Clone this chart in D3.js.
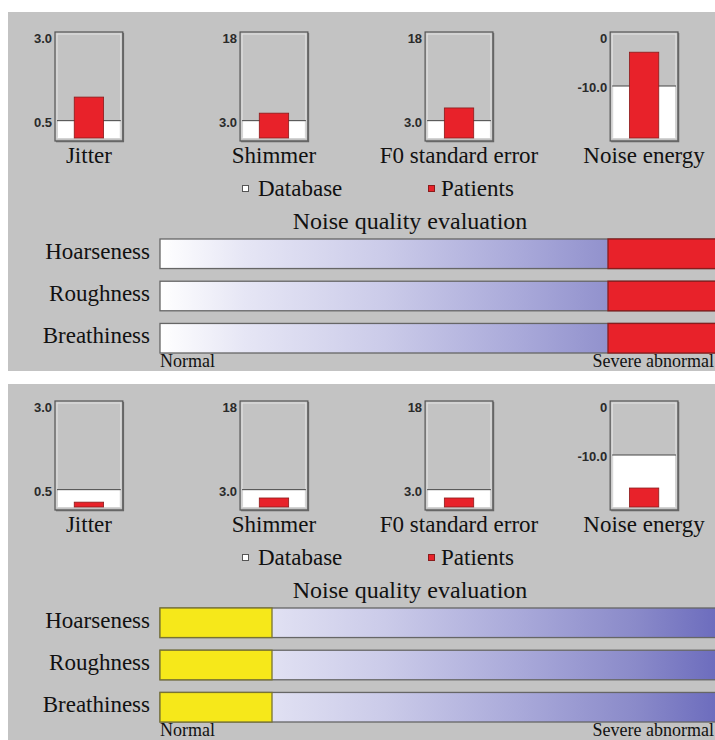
<!DOCTYPE html>
<html>
<head>
<meta charset="utf-8">
<script src="https://cdn.jsdelivr.net/npm/d3@7"></script>
<style>
  body { margin: 0; background: #fff; overflow: hidden; }
  svg { display: block; }
  .serif { font-family: 'Liberation Serif', 'DejaVu Serif', serif; fill: #111; }
  .tick-label { font-family: 'Liberation Sans', Arial, sans-serif; font-weight: bold; font-size: 13px; fill: #2a2a2a; }
</style>
</head>
<body>
<div class="chart"></div>
<script>
let w = 715, h = 740;

// values
const measures = ['Jitter', 'Shimmer', 'F0 standard error', 'Noise energy'];
const scaleMin = [0, 0, 0, -20];
const scaleMax = [3.0, 18, 18, 0];
const topTicks = ['3.0', '18', '18', '0'];
const databaseTicks = ['0.5', '3.0', '3.0', '-10.0'];
const databaseValues = [0.5, 3.0, 3.0, -10.0];
const patientsTop = [1.18, 4.3, 5.2, -3.5];
const patientsBottom = [0.14, 1.56, 1.56, -16.35];
const ratings = ['Hoarseness', 'Roughness', 'Breathiness'];
const gradeTop = [[4, 5], [4, 5], [4, 5]];
const gradeBottom = [[0, 1], [0, 1], [0, 1]];
const gradeDomain = [0, 5];
const legendLabels = ['Database', 'Patients'];
const scaleEnds = ['Normal', 'Severe abnormal'];

let svg = d3.select('.chart').append('svg').attr('width', w).attr('height', h);

/* ==== GRADIENT for the rating bars ===== */
let grad = svg.append('defs').append('linearGradient')
    .attr('id', 'rate-gradient')
    .attr('x1', '0%').attr('x2', '100%')
    .attr('y1', '0%').attr('y2', '0%');
[[0, '#ffffff'], [0.15, '#e6e6f5'], [0.4, '#cbcbe9'], [0.65, '#a8a8d9'], [0.85, '#8a8ac9'], [1, '#6b6bbd']]
    .forEach(function (s) {
        grad.append('stop').attr('offset', s[0] * 100 + '%').style('stop-color', s[1]);
    });

let panels = [
    { top: 12, bottom: 371, shift: 0, patients: patientsTop, grades: gradeTop, fill: '#e8222a', stroke: '#8a1c1c' },
    { top: 384, bottom: 745, shift: 369, patients: patientsBottom, grades: gradeBottom, fill: '#f6e81a', stroke: '#7a7430' }
];

// shared scales
let xBox = d3.scaleBand()
    .domain(measures)
    .range([57, 676])
    .paddingInner(0.655);

let xGrade = d3.scaleLinear()
    .domain(gradeDomain)
    .range([160, 720]);

panels.forEach(function (p) {
    let g = svg.append('g').attr('transform', 'translate(0,' + p.shift + ')');
    let bw = xBox.bandwidth();

    svg.insert('rect', 'g')
        .attr('x', 8).attr('y', p.top)
        .attr('width', 740).attr('height', p.bottom - p.top)
        .attr('fill', '#c3c3c3');

    /* ==== MINI BAR CHARTS ===== */
    measures.forEach(function (m, i) {
        let x0 = xBox(m);
        let y = d3.scaleLinear()
            .domain([scaleMin[i], scaleMax[i]])
            .range([138, 34]);

        // frame
        g.append('rect')
            .attr('x', x0 - 2).attr('y', 32)
            .attr('width', bw + 4).attr('height', 109)
            .attr('fill', 'none').attr('stroke', '#555').attr('stroke-width', 1.2);
        g.append('rect')
            .attr('x', x0).attr('y', 34)
            .attr('width', bw).attr('height', 104)
            .attr('fill', 'none').attr('stroke', '#e4e4e4').attr('stroke-width', 1);

        // database band
        g.append('rect')
            .attr('x', x0 + 1).attr('y', y(databaseValues[i]))
            .attr('width', bw - 2).attr('height', y(scaleMin[i]) - y(databaseValues[i]))
            .attr('fill', '#fff');
        g.append('line')
            .attr('x1', x0).attr('x2', x0 + bw)
            .attr('y1', y(databaseValues[i])).attr('y2', y(databaseValues[i]))
            .attr('stroke', '#444').attr('stroke-width', 1);

        // patients bar
        g.append('rect')
            .attr('x', x0 + bw * 0.27).attr('y', y(p.patients[i]))
            .attr('width', bw * 0.46).attr('height', y(scaleMin[i]) - y(p.patients[i]))
            .attr('fill', '#e8222a').attr('stroke', '#8a1c1c').attr('stroke-width', 0.8);

        // bottom/right shade of the frame
        g.append('path')
            .attr('d', 'M' + (x0 - 1) + ',' + 141.5 + 'H' + (x0 + bw + 2.5) + 'V' + 33)
            .attr('fill', 'none').attr('stroke', '#666').attr('stroke-width', 1.5);

        // tick labels
        let ticks = [databaseValues[i], scaleMax[i]];
        let labels = [databaseTicks[i], topTicks[i]];
        let axis = d3.axisLeft(y)
            .tickValues(ticks)
            .tickSize(0)
            .tickPadding(0)
            .tickFormat(function (d) { return labels[ticks.indexOf(d)]; });
        let ax = g.append('g')
            .attr('transform', 'translate(' + (x0 - 5) + ',0)')
            .call(axis)
            .attr('font-family', null)
            .attr('font-size', null);
        ax.select('.domain').remove();
        ax.selectAll('text')
            .attr('class', 'tick-label')
            .attr('fill', null)
            .attr('dy', function (d) { return d === scaleMax[i] ? '0.62em' : '0.42em'; });

        // measure name
        g.append('text')
            .attr('class', 'serif')
            .text(m)
            .attr('x', x0 + bw / 2)
            .attr('y', 163)
            .attr('text-anchor', 'middle')
            .style('font-size', '23px');
    });

    /* ==== LEGEND ===== */
    g.append('rect')
        .attr('x', 242.5).attr('y', 185.5).attr('width', 6).attr('height', 6)
        .attr('fill', '#fff').attr('stroke', '#555');
    g.append('text').attr('class', 'serif').text(legendLabels[0])
        .attr('x', 258).attr('y', 196)
        .style('font-size', '23px');
    g.append('rect')
        .attr('x', 428.5).attr('y', 185.5).attr('width', 6).attr('height', 6)
        .attr('fill', '#e8222a').attr('stroke', '#8a1c1c');
    g.append('text').attr('class', 'serif').text(legendLabels[1])
        .attr('x', 441).attr('y', 196)
        .style('font-size', '23px');

    g.append('text').attr('class', 'serif').text('Noise quality evaluation')
        .attr('x', 410).attr('y', 229)
        .attr('text-anchor', 'middle')
        .style('font-size', '24px');

    /* ==== RATING BARS ===== */
    let yRate = d3.scaleBand()
        .domain(ratings)
        .range([239, 353])
        .paddingInner(0.3);

    ratings.forEach(function (r, i) {
        let y0 = yRate(r);
        g.append('rect')
            .attr('x', xGrade(gradeDomain[0])).attr('y', y0)
            .attr('width', xGrade(gradeDomain[1]) - xGrade(gradeDomain[0]))
            .attr('height', yRate.bandwidth())
            .attr('fill', 'url(#rate-gradient)')
            .attr('stroke', '#666').attr('stroke-width', 1.3);
        g.append('rect')
            .attr('x', xGrade(p.grades[i][0])).attr('y', y0)
            .attr('width', xGrade(p.grades[i][1]) - xGrade(p.grades[i][0]))
            .attr('height', yRate.bandwidth())
            .attr('fill', p.fill)
            .attr('stroke', p.stroke).attr('stroke-width', 1.3);
        g.append('text').attr('class', 'serif').text(r)
            .attr('x', 150).attr('y', y0 + 20)
            .attr('text-anchor', 'end')
            .style('font-size', '23px');
    });

    g.append('text').attr('class', 'serif').text(scaleEnds[0])
        .attr('x', xGrade(gradeDomain[0])).attr('y', 367)
        .style('font-size', '18px');
    g.append('text').attr('class', 'serif').text(scaleEnds[1])
        .attr('x', xGrade(gradeDomain[1]) - 6).attr('y', 367)
        .attr('text-anchor', 'end')
        .style('font-size', '18px');
});
</script>
</body>
</html>
